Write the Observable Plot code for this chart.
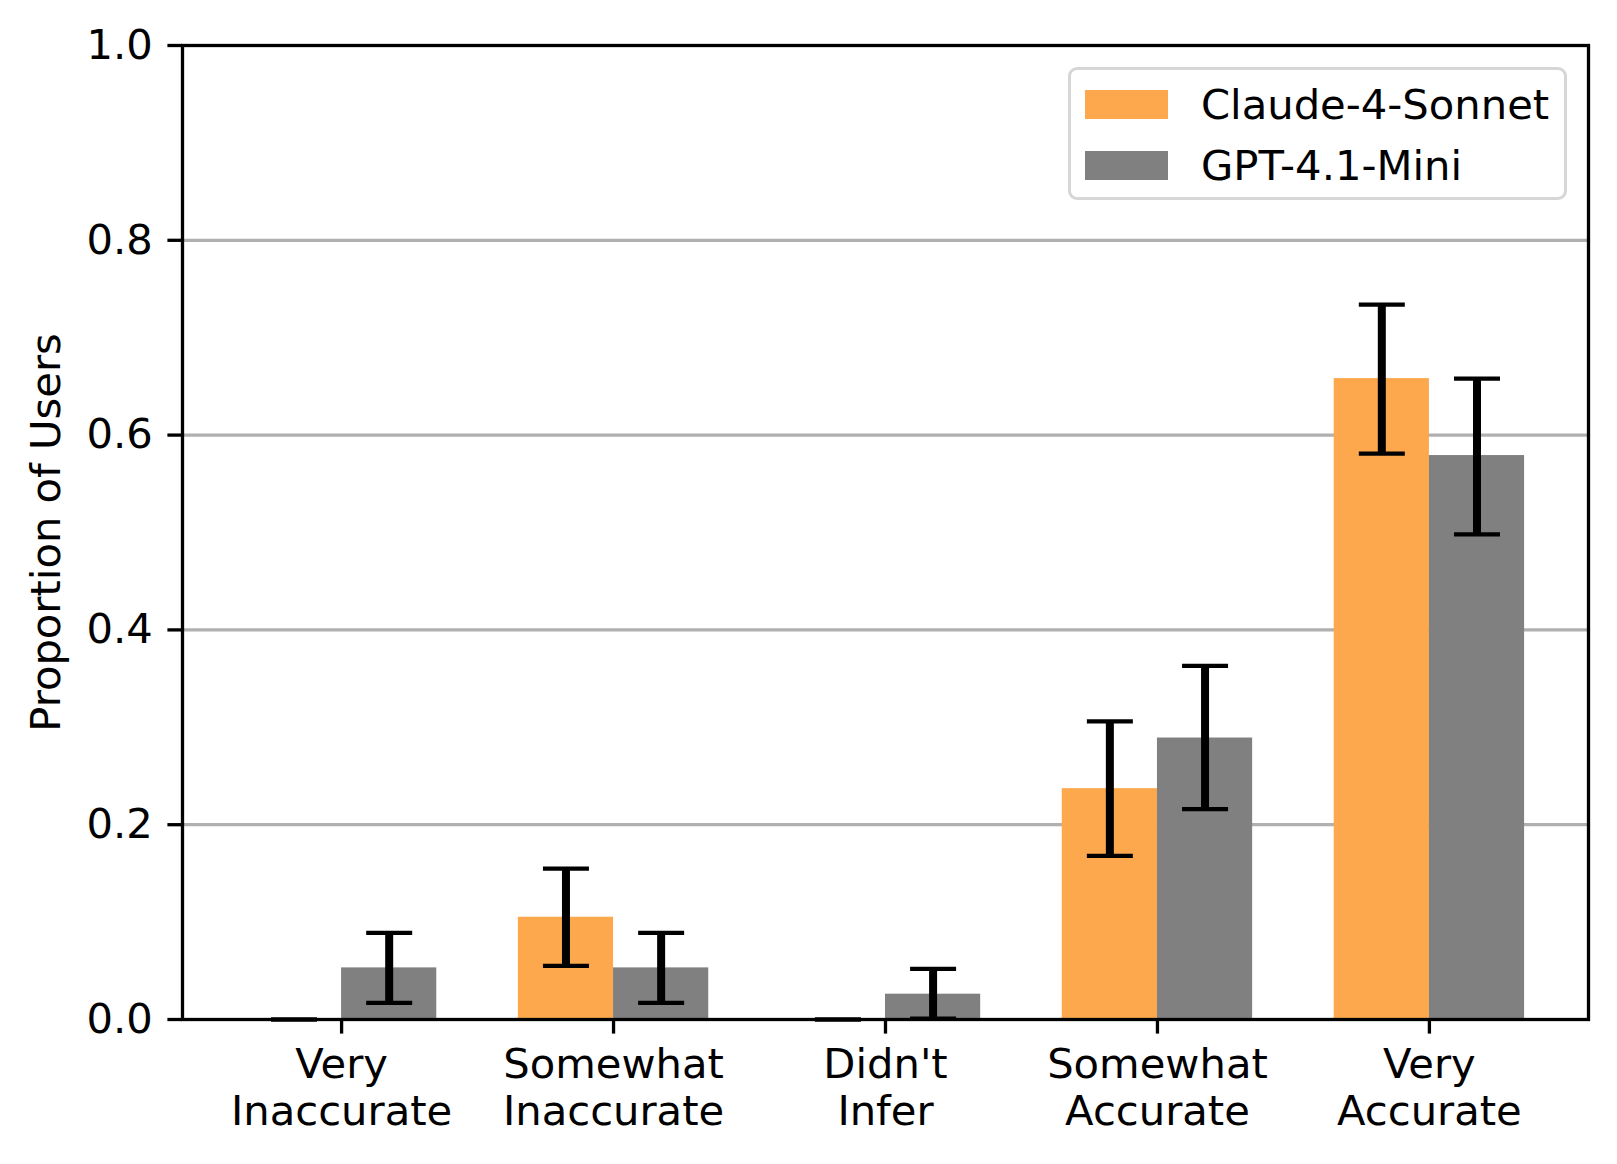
<!DOCTYPE html>
<html>
<head>
<meta charset="utf-8">
<script src="https://cdn.jsdelivr.net/npm/d3@7"></script>
<script src="https://cdn.jsdelivr.net/npm/@observablehq/plot@0.6"></script>
<style>
  html, body { margin: 0; padding: 0; background: #fff; }
  #wrap { position: relative; width: 1617px; height: 1164px; font-family: "DejaVu Sans", sans-serif; }
  #legend {
    position: absolute; left: 1068px; top: 67px; width: 499px; height: 133px;
    border: 3px solid #d6d6d6; border-radius: 9px; background: rgba(255,255,255,0.8);
    box-sizing: border-box;
  }
  .row { position: absolute; left: 14px; display: flex; align-items: center; height: 42px; }
  .sw { width: 83px; height: 29px; margin-right: 33px; }
  .lab { font-size: 41.7px; color: #000; white-space: nowrap; }
</style>
</head>
<body>
<div id="wrap"></div>
<script>
const categories = ["Very\nInaccurate", "Somewhat\nInaccurate", "Didn't\nInfer", "Somewhat\nAccurate", "Very\nAccurate"];
const models = ["Claude-4-Sonnet", "GPT-4.1-Mini"];
const claudeValues = [0, 0.105, 0, 0.237, 0.658];
const claudeLow    = [0, 0.055, 0, 0.168, 0.581];
const claudeHigh   = [0, 0.155, 0, 0.306, 0.734];
const gptValues = [0.053, 0.053, 0.026, 0.289, 0.579];
const gptLow    = [0.017, 0.017, 0.001, 0.216, 0.498];
const gptHigh   = [0.089, 0.089, 0.052, 0.363, 0.658];
const yTicks = [0, 0.2, 0.4, 0.6, 0.8, 1.0];
const colors = ["#fda84d", "#808080"];

const barWidth = 0.35;
const series = [
  {values: claudeValues, low: claudeLow, high: claudeHigh},
  {values: gptValues, low: gptLow, high: gptHigh}
];
const rows = [];
categories.forEach((c, i) => {
  series.forEach((s, j) => {
    rows.push({i, category: c, model: models[j], j, value: s.values[i], lo: s.low[i], hi: s.high[i]});
  });
});
const center = d => d.i + (d.j - 0.5) * barWidth;

const capSymbol = {
  draw(context, size) {
    const w = Math.sqrt(size / Math.PI);
    context.moveTo(-w, 0);
    context.lineTo(w, 0);
  }
};

const FS = 41.7;
const chart = Plot.plot({
  width: 1617,
  height: 1164,
  marginTop: 45,
  marginLeft: 182,
  marginRight: 29,
  marginBottom: 145,
  style: {fontFamily: "DejaVu Sans, sans-serif", fontSize: FS + "px", background: "#fff", color: "#000"},
  x: {type: "linear", domain: [-0.585, 4.585]},
  y: {domain: [0, 1]},
  color: {domain: models, range: colors},
  marks: [
    Plot.gridY({ticks: yTicks.slice(1, -1), stroke: "#b0b0b0", strokeOpacity: 1, strokeWidth: 3.3}),
    Plot.rectY(rows, {x1: d => center(d) - barWidth / 2, x2: d => center(d) + barWidth / 2, y1: 0, y2: "value", fill: "model"}),
    Plot.ruleX(rows.filter(d => d.hi > d.lo), {x: center, y1: "lo", y2: "hi", stroke: "#000", strokeWidth: 8}),
    Plot.dot(rows, {x: center, y: "lo", symbol: capSymbol, r: 23, stroke: "#000", strokeWidth: 4.2, fill: "none"}),
    Plot.dot(rows, {x: center, y: "hi", symbol: capSymbol, r: 23, stroke: "#000", strokeWidth: 4.2, fill: "none"}),
    Plot.axisY({ticks: yTicks, tickFormat: d3.format(".1f"), tickSize: 14.6, tickPadding: 15, strokeWidth: 3.3, fontSize: FS, label: null}),
    Plot.axisX({ticks: d3.range(categories.length), tickFormat: i => categories[i], tickSize: 14.6, tickPadding: 11, strokeWidth: 3.3, fontSize: FS, lineHeight: 1.12, label: null}),
    Plot.text(["Proportion of Users"], {frameAnchor: "left", textAnchor: "middle", rotate: -90, dx: -136, fontSize: FS, fill: "#000"}),
    Plot.frame({stroke: "#000", strokeWidth: 3.3})
  ]
});

const wrap = document.getElementById("wrap");
wrap.appendChild(chart);

const legend = document.createElement("div");
legend.id = "legend";
models.forEach((m, k) => {
  const row = document.createElement("div");
  row.className = "row";
  row.style.top = (13 + k * 61) + "px";
  const sw = document.createElement("div");
  sw.className = "sw";
  sw.style.background = colors[k];
  const lab = document.createElement("span");
  lab.className = "lab";
  lab.textContent = m;
  row.appendChild(sw);
  row.appendChild(lab);
  legend.appendChild(row);
});
wrap.appendChild(legend);
</script>
</body>
</html>
